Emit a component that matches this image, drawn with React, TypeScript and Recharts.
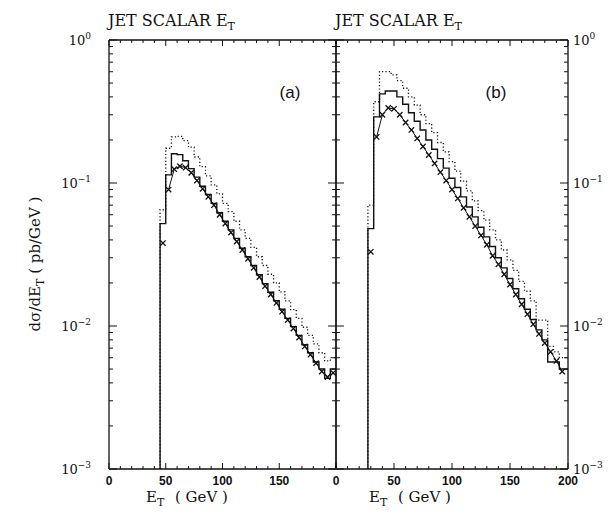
import React from 'react'
import { ComposedChart, Line, Scatter, XAxis, YAxis } from 'recharts'

// bin lower edges (GeV) and contents (pb/GeV)
const edgesA = [45, 50, 55, 60, 65, 70, 75, 80, 85, 90, 95, 100, 105, 110, 115, 120, 125, 130, 135, 140, 145, 150, 155, 160, 165, 170, 175, 180, 185, 190, 195]
const dottedA = [0.065, 0.175, 0.21, 0.212, 0.198, 0.178, 0.152, 0.13, 0.112, 0.097, 0.084, 0.072, 0.063, 0.054, 0.047, 0.041, 0.0355, 0.0305, 0.0265, 0.023, 0.02, 0.0173, 0.015, 0.013, 0.0113, 0.0098, 0.0086, 0.0075, 0.0065, 0.0057, 0.006]
const solidA = [0.052, 0.114, 0.16, 0.158, 0.143, 0.126, 0.11, 0.095, 0.083, 0.072, 0.062, 0.054, 0.047, 0.041, 0.035, 0.0305, 0.0265, 0.0228, 0.0198, 0.0172, 0.015, 0.0131, 0.0113, 0.0099, 0.0086, 0.0074, 0.0065, 0.0056, 0.005, 0.0043, 0.005]
const crossA = [0.038, 0.09, 0.125, 0.131, 0.128, 0.118, 0.104, 0.091, 0.08, 0.07, 0.06, 0.052, 0.045, 0.039, 0.034, 0.0295, 0.0255, 0.022, 0.019, 0.0166, 0.0145, 0.0126, 0.011, 0.0096, 0.0083, 0.0072, 0.0063, 0.0055, 0.0048, 0.0044, 0.0047]

const edgesB = [27.5, 32.5, 37.5, 42.5, 47.5, 52.5, 57.5, 62.5, 67.5, 72.5, 77.5, 82.5, 87.5, 92.5, 97.5, 102.5, 107.5, 112.5, 117.5, 122.5, 127.5, 132.5, 137.5, 142.5, 147.5, 152.5, 157.5, 162.5, 167.5, 172.5, 177.5, 182.5, 187.5, 192.5]
const dottedB = [0.07, 0.37, 0.6, 0.6, 0.57, 0.52, 0.46, 0.4, 0.35, 0.3, 0.26, 0.225, 0.192, 0.165, 0.141, 0.121, 0.103, 0.088, 0.075, 0.064, 0.055, 0.047, 0.04, 0.034, 0.029, 0.0245, 0.0205, 0.0175, 0.015, 0.011, 0.011, 0.0072, 0.0066, 0.006]
const solidB = [0.048, 0.29, 0.42, 0.44, 0.44, 0.4, 0.355, 0.31, 0.27, 0.235, 0.2, 0.172, 0.148, 0.127, 0.108, 0.093, 0.08, 0.068, 0.058, 0.049, 0.042, 0.036, 0.03, 0.0255, 0.0215, 0.0182, 0.0155, 0.0131, 0.0111, 0.0094, 0.008, 0.0056, 0.0056, 0.005]
const crossB = [0.033, 0.21, 0.3, 0.335, 0.33, 0.3, 0.265, 0.235, 0.205, 0.18, 0.157, 0.137, 0.119, 0.104, 0.09, 0.078, 0.067, 0.058, 0.05, 0.043, 0.037, 0.031, 0.027, 0.023, 0.0195, 0.0166, 0.0142, 0.0121, 0.0103, 0.0088, 0.0076, 0.0066, 0.0057, 0.0048]

const xTicks = [0, 10, 20, 30, 40, 50, 60, 70, 80, 90, 100, 110, 120, 130, 140, 150, 160, 170, 180, 190, 200]
const xLabelsA = [0, 50, 100, 150]
const xLabelsB = [0, 50, 100, 150, 200]
const decades = [0.001, 0.01, 0.1]
const mantissas = [1, 2, 3, 4, 5, 6, 7, 8, 9]
const yTicks = [...decades.flatMap(d => mantissas.map(m => m * d)), 1]

const FLOOR = 0.001
const END = 200
const INK = '#111'

function steps(edges: number[], vals: number[]) {
  const pts = [{ x: edges[0], y: FLOOR }]
  edges.forEach((e, i) => pts.push({ x: e, y: vals[i] }))
  pts.push({ x: END, y: vals[vals.length - 1] })
  return pts
}
function marks(edges: number[], vals: number[]) {
  return edges.map((e, i) => ({ x: e + 2.5, y: vals[i] }))
}

const isDecade = (v: number) => Math.abs(Math.log10(v) - Math.round(Math.log10(v))) < 1e-6
const expLabel = (v: number) => {
  const e = Math.round(Math.log10(v))
  return e === 0 ? '0' : '\u2212' + Math.abs(e)
}

const Cross = (p: any) => {
  const { cx, cy } = p
  const r = 2.7
  return <path d={`M${cx - r},${cy - r}L${cx + r},${cy + r}M${cx - r},${cy + r}L${cx + r},${cy - r}`} stroke={INK} strokeWidth={1.3} fill="none" />
}

const bottomTick = (labels: number[]) => (p: any) => {
  const { x, y, payload } = p
  const major = payload.value % 50 === 0
  return (
    <g>
      <line x1={x} x2={x} y1={y} y2={y - (major ? 6 : 3)} stroke={INK} />
      {labels.includes(payload.value) && (
        <text x={x} y={y + 16} textAnchor="middle" fontFamily="Liberation Sans" fontWeight="bold" fontSize={12} fill={INK}>{payload.value}</text>
      )}
    </g>
  )
}
const topTick = (p: any) => {
  const { x, y, payload } = p
  const major = payload.value % 50 === 0
  return <line x1={x} x2={x} y1={y} y2={y + (major ? 6 : 3)} stroke={INK} />
}
const leftTick = (showLabels: boolean) => (p: any) => {
  const { x, y, payload } = p
  const major = isDecade(payload.value)
  return (
    <g>
      <line x1={x} x2={x + (major ? 8 : 4)} y1={y} y2={y} stroke={INK} />
      {showLabels && major && (
        <text x={x - 18} y={y + 5} textAnchor="end" fontFamily="DejaVu Serif" fontSize={13} fill={INK}>
          10<tspan dy={-6} fontSize={9}>{expLabel(payload.value)}</tspan>
        </text>
      )}
    </g>
  )
}
const rightTick = (showLabels: boolean) => (p: any) => {
  const { x, y, payload } = p
  const major = isDecade(payload.value)
  return (
    <g>
      <line x1={x} x2={x - (major ? 8 : 4)} y1={y} y2={y} stroke={INK} />
      {showLabels && major && (
        <text x={x + 5} y={y + 5} textAnchor="start" fontFamily="DejaVu Serif" fontSize={13} fill={INK}>
          10<tspan dy={-6} fontSize={9}>{expLabel(payload.value)}</tspan>
        </text>
      )}
    </g>
  )
}

type PanelProps = {
  left: number
  width: number
  yLeftW: number
  yRightW: number
  edges: number[]
  dotted: number[]
  solid: number[]
  cross: number[]
  xLabels: number[]
  leftLabels: boolean
  rightLabels: boolean
}

function Panel(p: PanelProps) {
  const frame = { stroke: INK, strokeWidth: 1.3 }
  const xProps = { dataKey: 'x', type: 'number' as const, domain: [0, 200], ticks: xTicks, interval: 0, tickLine: false, tickSize: 0, tickMargin: 0, axisLine: frame, allowDataOverflow: true }
  const yProps = { dataKey: 'y', type: 'number' as const, scale: 'log' as const, domain: [FLOOR, 1], ticks: yTicks, interval: 0, tickLine: false, tickSize: 0, tickMargin: 0, axisLine: frame, allowDataOverflow: true }
  const crossPts = marks(p.edges, p.cross)
  return (
    <div style={{ position: 'absolute', left: p.left, top: 0 }}>
      <ComposedChart width={p.width} height={514} margin={{ top: 0, right: 0, bottom: 0, left: 0 }}>
        <XAxis xAxisId="b" {...xProps} height={45} tick={bottomTick(p.xLabels)} />
        <XAxis xAxisId="t" orientation="top" {...xProps} height={40} tick={topTick} />
        <YAxis yAxisId="l" {...yProps} width={p.yLeftW} tick={leftTick(p.leftLabels)} />
        <YAxis yAxisId="r" orientation="right" {...yProps} width={p.yRightW} tick={rightTick(p.rightLabels)} />
        <Line xAxisId="b" yAxisId="l" data={steps(p.edges, p.dotted)} dataKey="y" type="stepAfter" stroke={INK} strokeWidth={1.3} strokeDasharray="1.2 2.2" dot={false} isAnimationActive={false} />
        <Line xAxisId="b" yAxisId="l" data={steps(p.edges, p.solid)} dataKey="y" type="stepAfter" stroke={INK} strokeWidth={1.4} dot={false} isAnimationActive={false} />
        <Line xAxisId="b" yAxisId="l" data={crossPts.slice(1)} dataKey="y" type="linear" stroke={INK} strokeWidth={1} dot={false} isAnimationActive={false} />
        <Scatter xAxisId="b" yAxisId="l" data={crossPts} shape={Cross} isAnimationActive={false} />
      </ComposedChart>
    </div>
  )
}

export default function App() {
  return (
    <div style={{ position: 'absolute', left: 0, top: 0, width: 610, height: 514, background: '#fff' }}>
      <Panel left={0} width={345} yLeftW={109} yRightW={9} edges={edgesA} dotted={dottedA} solid={solidA} cross={crossA} xLabels={xLabelsA} leftLabels={true} rightLabels={false} />
      <Panel left={300} width={310} yLeftW={36} yRightW={42} edges={edgesB} dotted={dottedB} solid={solidB} cross={crossB} xLabels={xLabelsB} leftLabels={false} rightLabels={true} />
      <svg width={610} height={514} style={{ position: 'absolute', left: 0, top: 0, pointerEvents: 'none' }}>
        <g fontFamily="DejaVu Serif" fontSize={16} fill={INK}>
          <text x={108} y={26}>JET SCALAR E<tspan dy={4} fontSize={11}>T</tspan></text>
          <text x={335} y={26}>JET SCALAR E<tspan dy={4} fontSize={11}>T</tspan></text>
        </g>
        <g fontFamily="DejaVu Serif" fontSize={15} fill={INK}>
          <text x={146} y={502}>E<tspan dy={4} fontSize={11}>T</tspan></text>
          <text x={175} y={502}>( GeV )</text>
          <text x={369} y={502}>E<tspan dy={4} fontSize={11}>T</tspan></text>
          <text x={398} y={502}>( GeV )</text>
          <text transform="translate(40,264) rotate(-90)" textAnchor="middle">
            d{'\u03c3'}/dE<tspan dy={4} fontSize={11}>T</tspan><tspan dy={-4}> ( pb/GeV )</tspan>
          </text>
        </g>
        <g fontFamily="Liberation Sans" fontSize={17} fill={INK}>
          <text x={290} y={98} textAnchor="middle">(a)</text>
          <text x={496} y={98} textAnchor="middle">(b)</text>
        </g>
      </svg>
    </div>
  )
}
